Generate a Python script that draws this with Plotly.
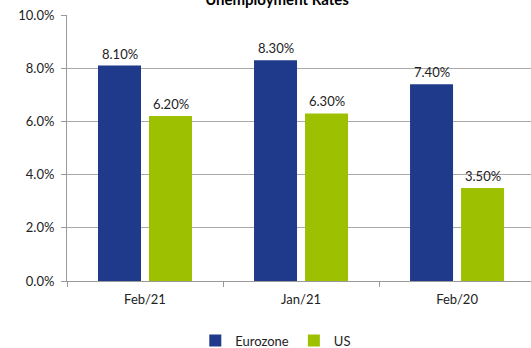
import plotly.graph_objects as go

categories = ["Feb/21", "Jan/21", "Feb/20"]
eurozone = [8.10, 8.30, 7.40]
us = [6.20, 6.30, 3.50]
y_ticks = [0, 2, 4, 6, 8, 10]

NAVY = "#1F3A8A"
GREEN = "#9DC100"
FONT = "Lato, Open Sans, sans-serif"

fig = go.Figure()
fig.add_trace(go.Bar(name="Eurozone", x=categories, y=eurozone, marker_color=NAVY,
                     marker_line_width=0))
fig.add_trace(go.Bar(name="US", x=categories, y=us, marker_color=GREEN,
                     marker_line_width=0))

annotations = []
for i, c in enumerate(categories):
    for vals, xs in ((eurozone, -25.5), (us, 25.5)):
        annotations.append(dict(x=c, y=vals[i], xref="x", yref="y", text=f"{vals[i]:.2f}%",
                                showarrow=False, xshift=xs, yshift=12,
                                font=dict(family=FONT, size=13, color="#222")))

fig.update_layout(
    width=531, height=348,
    margin=dict(l=67, r=0, t=15, b=67, autoexpand=False),
    paper_bgcolor="white", plot_bgcolor="white",
    barmode="group", bargap=0.346, bargroupgap=0.157,
    font=dict(family=FONT, size=12, color="#222"),
    title=dict(text="<b>Unemployment Rates</b>", x=0.4526, xanchor="center",
               xref="paper", y=1.0, yref="container", yanchor="middle",
               font=dict(family=FONT, size=15, color="#000")),
    showlegend=True,
    legend=dict(orientation="h", x=0.45, xanchor="center", y=-0.224, yanchor="middle",
                font=dict(family=FONT, size=13, color="#222"), itemwidth=30,
                traceorder="normal", borderwidth=0, bgcolor="rgba(0,0,0,0)"),
    annotations=annotations,
)
fig.update_xaxes(range=[-0.5, 2.474], showline=True, linecolor="#999", linewidth=1,
                 ticks="outside", tickson="boundaries", ticklen=5, tickcolor="#999",
                 showgrid=False, automargin=False, ticklabelstandoff=6,
                 tickfont=dict(family=FONT, size=13, color="#222"))
fig.update_yaxes(range=[0, 10], tickvals=y_ticks, ticktext=[f"{v:.1f}%" for v in y_ticks],
                 showline=True, linecolor="#999", linewidth=1, ticks="outside", ticklen=5,
                 tickcolor="#999", showgrid=True, gridcolor="#AAAAAA", gridwidth=1,
                 zeroline=False, automargin=False, ticklabelstandoff=4,
                 tickfont=dict(family=FONT, size=13, color="#222"))

fig.write_html("out.html", config={"displayModeBar": False},
               post_script="document.body.style.margin='0';")
